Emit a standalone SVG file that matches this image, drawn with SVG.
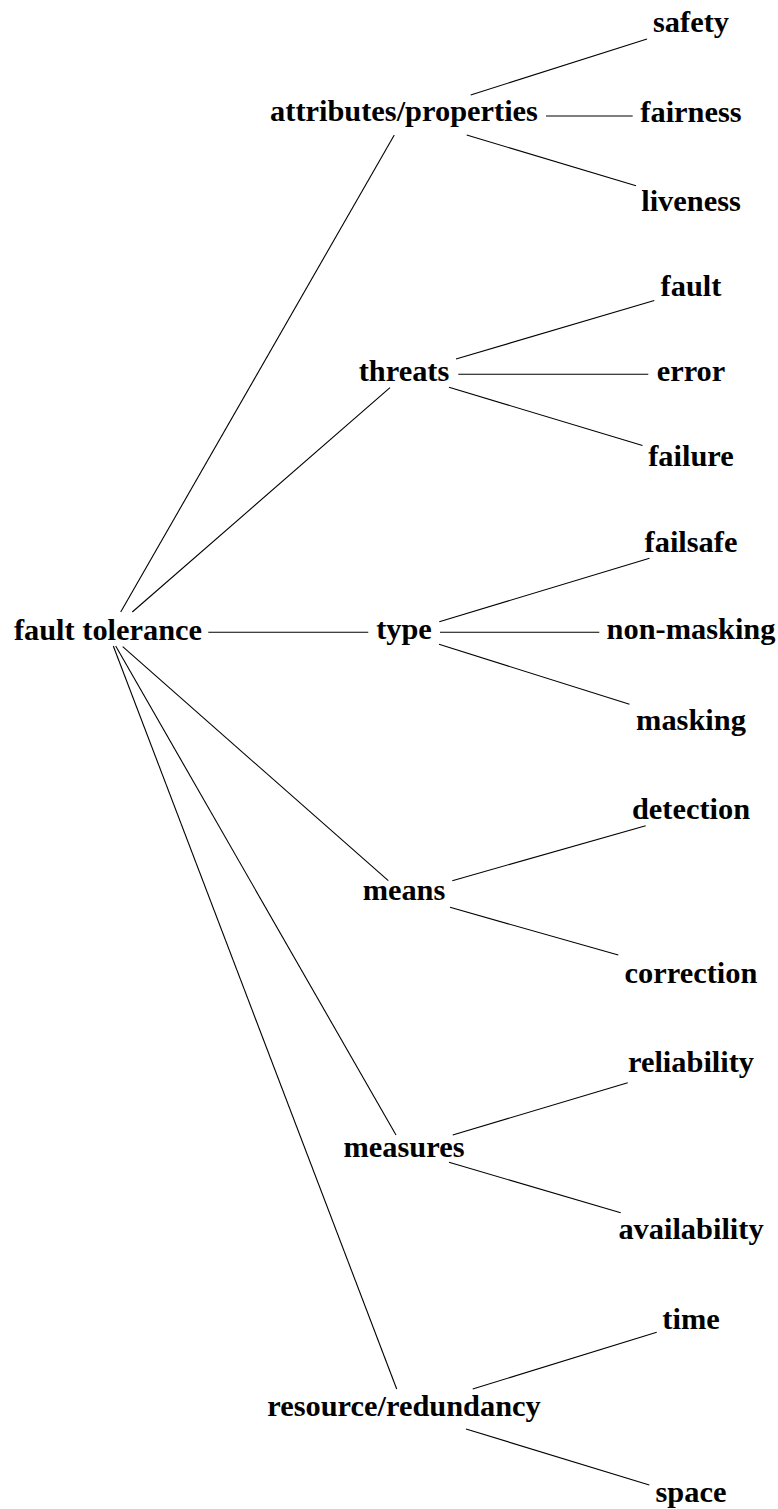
<svg xmlns="http://www.w3.org/2000/svg" width="778" height="1509" viewBox="0 0 778 1509">
  <style>
    .lbl { font-family: "Liberation Serif", "Times New Roman", serif; font-weight: bold; font-size: 30.4px; fill: #000; text-anchor: middle; }
    .edge { stroke: #000; stroke-width: 1.1; fill: none; }
  </style>
  <rect width="778" height="1509" fill="#fff"/>

  <!-- connectors -->
  <g id="edges">
    <!-- root to categories -->
    <line class="edge" x1="120.7" y1="612" x2="394.3" y2="135"/>
    <line class="edge" x1="132.3" y1="612" x2="390" y2="387.7"/>
    <line class="edge" x1="208.3" y1="632.3" x2="368.3" y2="632.3"/>
    <line class="edge" x1="122.7" y1="646.7" x2="388.3" y2="880.7"/>
    <line class="edge" x1="115.7" y1="646" x2="396" y2="1135"/>
    <line class="edge" x1="113.3" y1="646" x2="396.7" y2="1389"/>
    <!-- attributes/properties -->
    <line class="edge" x1="470.7" y1="95" x2="647" y2="39"/>
    <line class="edge" x1="546" y1="116" x2="632.7" y2="116"/>
    <line class="edge" x1="466.7" y1="135" x2="636" y2="185.7"/>
    <!-- threats -->
    <line class="edge" x1="456" y1="359" x2="654.3" y2="300.5"/>
    <line class="edge" x1="458.3" y1="374.3" x2="648.3" y2="374.3"/>
    <line class="edge" x1="449" y1="387.3" x2="642.5" y2="445.5"/>
    <!-- type -->
    <line class="edge" x1="439.3" y1="621.7" x2="649.5" y2="558.3"/>
    <line class="edge" x1="440" y1="632.3" x2="599.3" y2="632.3"/>
    <line class="edge" x1="439" y1="644.3" x2="629.5" y2="704.2"/>
    <!-- means -->
    <line class="edge" x1="452.3" y1="880.7" x2="645.7" y2="825.7"/>
    <line class="edge" x1="450" y1="907.3" x2="618.3" y2="955"/>
    <!-- measures -->
    <line class="edge" x1="452.7" y1="1135" x2="627.7" y2="1082.7"/>
    <line class="edge" x1="449" y1="1162.3" x2="620.7" y2="1212.7"/>
    <!-- resource/redundancy -->
    <line class="edge" x1="472.7" y1="1389" x2="656.7" y2="1332.3"/>
    <line class="edge" x1="466" y1="1429" x2="649.3" y2="1485"/>
  </g>

  <!-- root -->
  <g id="fault-tolerance"><text class="lbl" x="108" y="640">fault tolerance</text></g>

  <!-- categories -->
  <g id="attributes-properties"><text class="lbl" x="404" y="121">attributes/properties</text></g>
  <g id="threats"><text class="lbl" x="404" y="381">threats</text></g>
  <g id="type"><text class="lbl" x="404" y="639">type</text></g>
  <g id="means"><text class="lbl" x="404" y="900">means</text></g>
  <g id="measures"><text class="lbl" x="404" y="1157">measures</text></g>
  <g id="resource-redundancy"><text class="lbl" x="404" y="1416">resource/redundancy</text></g>

  <!-- leaves -->
  <g id="safety"><text class="lbl" x="691" y="32">safety</text></g>
  <g id="fairness"><text class="lbl" x="691" y="122">fairness</text></g>
  <g id="liveness"><text class="lbl" x="691" y="211">liveness</text></g>
  <g id="fault"><text class="lbl" x="691" y="296">fault</text></g>
  <g id="error"><text class="lbl" x="691" y="381">error</text></g>
  <g id="failure"><text class="lbl" x="691" y="466">failure</text></g>
  <g id="failsafe"><text class="lbl" x="691" y="552">failsafe</text></g>
  <g id="non-masking"><text class="lbl" x="691" y="639">non-masking</text></g>
  <g id="masking"><text class="lbl" x="691" y="730">masking</text></g>
  <g id="detection"><text class="lbl" x="691" y="819">detection</text></g>
  <g id="correction"><text class="lbl" x="691" y="983">correction</text></g>
  <g id="reliability"><text class="lbl" x="691" y="1072">reliability</text></g>
  <g id="availability"><text class="lbl" x="691" y="1239">availability</text></g>
  <g id="time"><text class="lbl" x="691" y="1329">time</text></g>
  <g id="space"><text class="lbl" x="691" y="1502">space</text></g>
</svg>
